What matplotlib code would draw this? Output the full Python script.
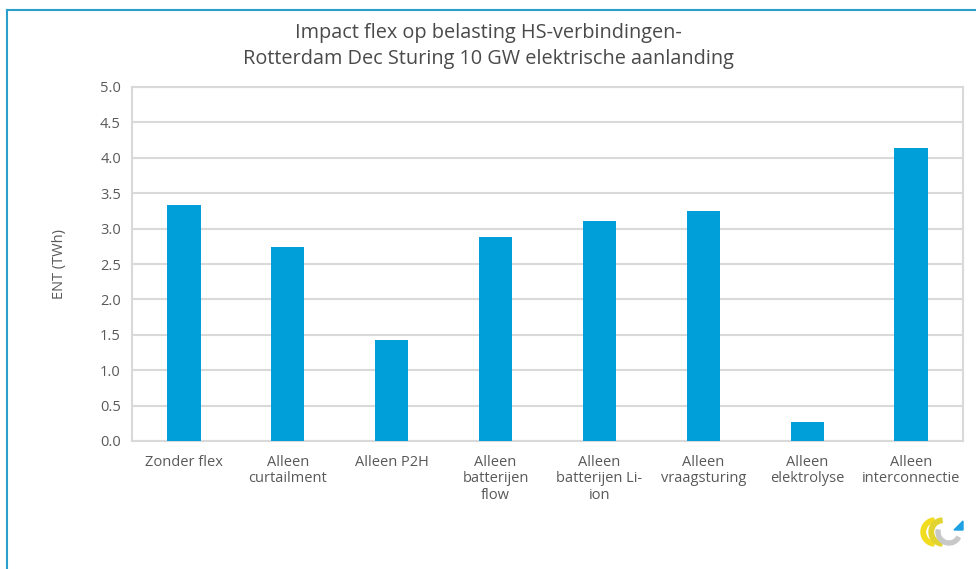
import matplotlib
matplotlib.use("Agg")
import matplotlib.pyplot as plt
from matplotlib.patches import Wedge, Polygon

categories = [
    "Zonder flex",
    "Alleen\ncurtailment",
    "Alleen P2H",
    "Alleen\nbatterijen\nflow",
    "Alleen\nbatterijen Li-\nion",
    "Alleen\nvraagsturing",
    "Alleen\nelektrolyse",
    "Alleen\ninterconnectie",
]
ent_twh = [3.33, 2.74, 1.43, 2.88, 3.11, 3.25, 0.27, 4.14]
yticks = [0.0, 0.5, 1.0, 1.5, 2.0, 2.5, 3.0, 3.5, 4.0, 4.5, 5.0]

title = "Impact flex op belasting HS-verbindingen-\nRotterdam Dec Sturing 10 GW elektrische aanlanding"
ylabel = "ENT (TWh)"

plt.rcParams["font.family"] = ["Open Sans", "DejaVu Sans"]
text_color = "#595959"
bar_color = "#009FDA"
grid_color = "#D9D9D9"

W, H = 976, 569
fig = plt.figure(figsize=(W / 100, H / 100), dpi=100)

# outer frame (left and top edges)
frame_color = "#2A9FCC"
fig.add_artist(plt.Line2D([7 / W, 7 / W], [0, 1 - 9.5 / H], color=frame_color, lw=1.5,
                          transform=fig.transFigure))
fig.add_artist(plt.Line2D([7 / W, 1], [1 - 9.5 / H, 1 - 9.5 / H], color=frame_color, lw=1.5,
                          transform=fig.transFigure))

left, right, top, bottom = 132, 963, 87, 441
ax = fig.add_axes([left / W, 1 - bottom / H, (right - left) / W, (bottom - top) / H])

x = range(len(categories))
ax.bar(x, ent_twh, width=0.32, color=bar_color, zorder=3)
ax.set_xlim(-0.5, len(categories) - 0.5)
ax.set_ylim(0, 5.0)
ax.set_yticks(yticks)
ax.set_yticklabels([f"{v:.1f}" for v in yticks], fontsize=10.5, color=text_color)
ax.set_xticks(list(x))
ax.set_xticklabels(categories, fontsize=10.5, color=text_color, linespacing=1.12)
ax.tick_params(axis="both", length=0, pad=8)
ax.tick_params(axis="x", pad=10)
ax.yaxis.grid(True, color=grid_color, lw=1.5, zorder=0)
for s in ax.spines.values():
    s.set_color(grid_color)
    s.set_linewidth(1.5)
ax.set_ylabel(ylabel, fontsize=10.5, color=text_color, labelpad=24)

fig.text(0.5, 1 - 46 / H, title, ha="center", va="center", fontsize=14.3,
         color="#4A4A4A", linespacing=1.42, fontweight="medium")

# small logo in the lower right corner
lax = fig.add_axes([918 / W, 1 - 552 / H, 48 / W, 40 / H])
lax.set_xlim(0, 48)
lax.set_ylim(0, 40)
lax.set_aspect("equal")
lax.axis("off")
lax.add_patch(Wedge((17, 20), 14, 95, 265, width=4.5, color="#F2DC1F"))
lax.add_patch(Wedge((25, 20), 14, 95, 265, width=4.5, color="#E2D430"))
lax.add_patch(Wedge((31, 20), 13, 170, 330, width=4, color="#C8C8C8"))
lax.add_patch(Polygon([[36, 22], [45, 31], [45, 22]], closed=True, color="#1DA1E2"))

fig.savefig("out.png", dpi=100)
